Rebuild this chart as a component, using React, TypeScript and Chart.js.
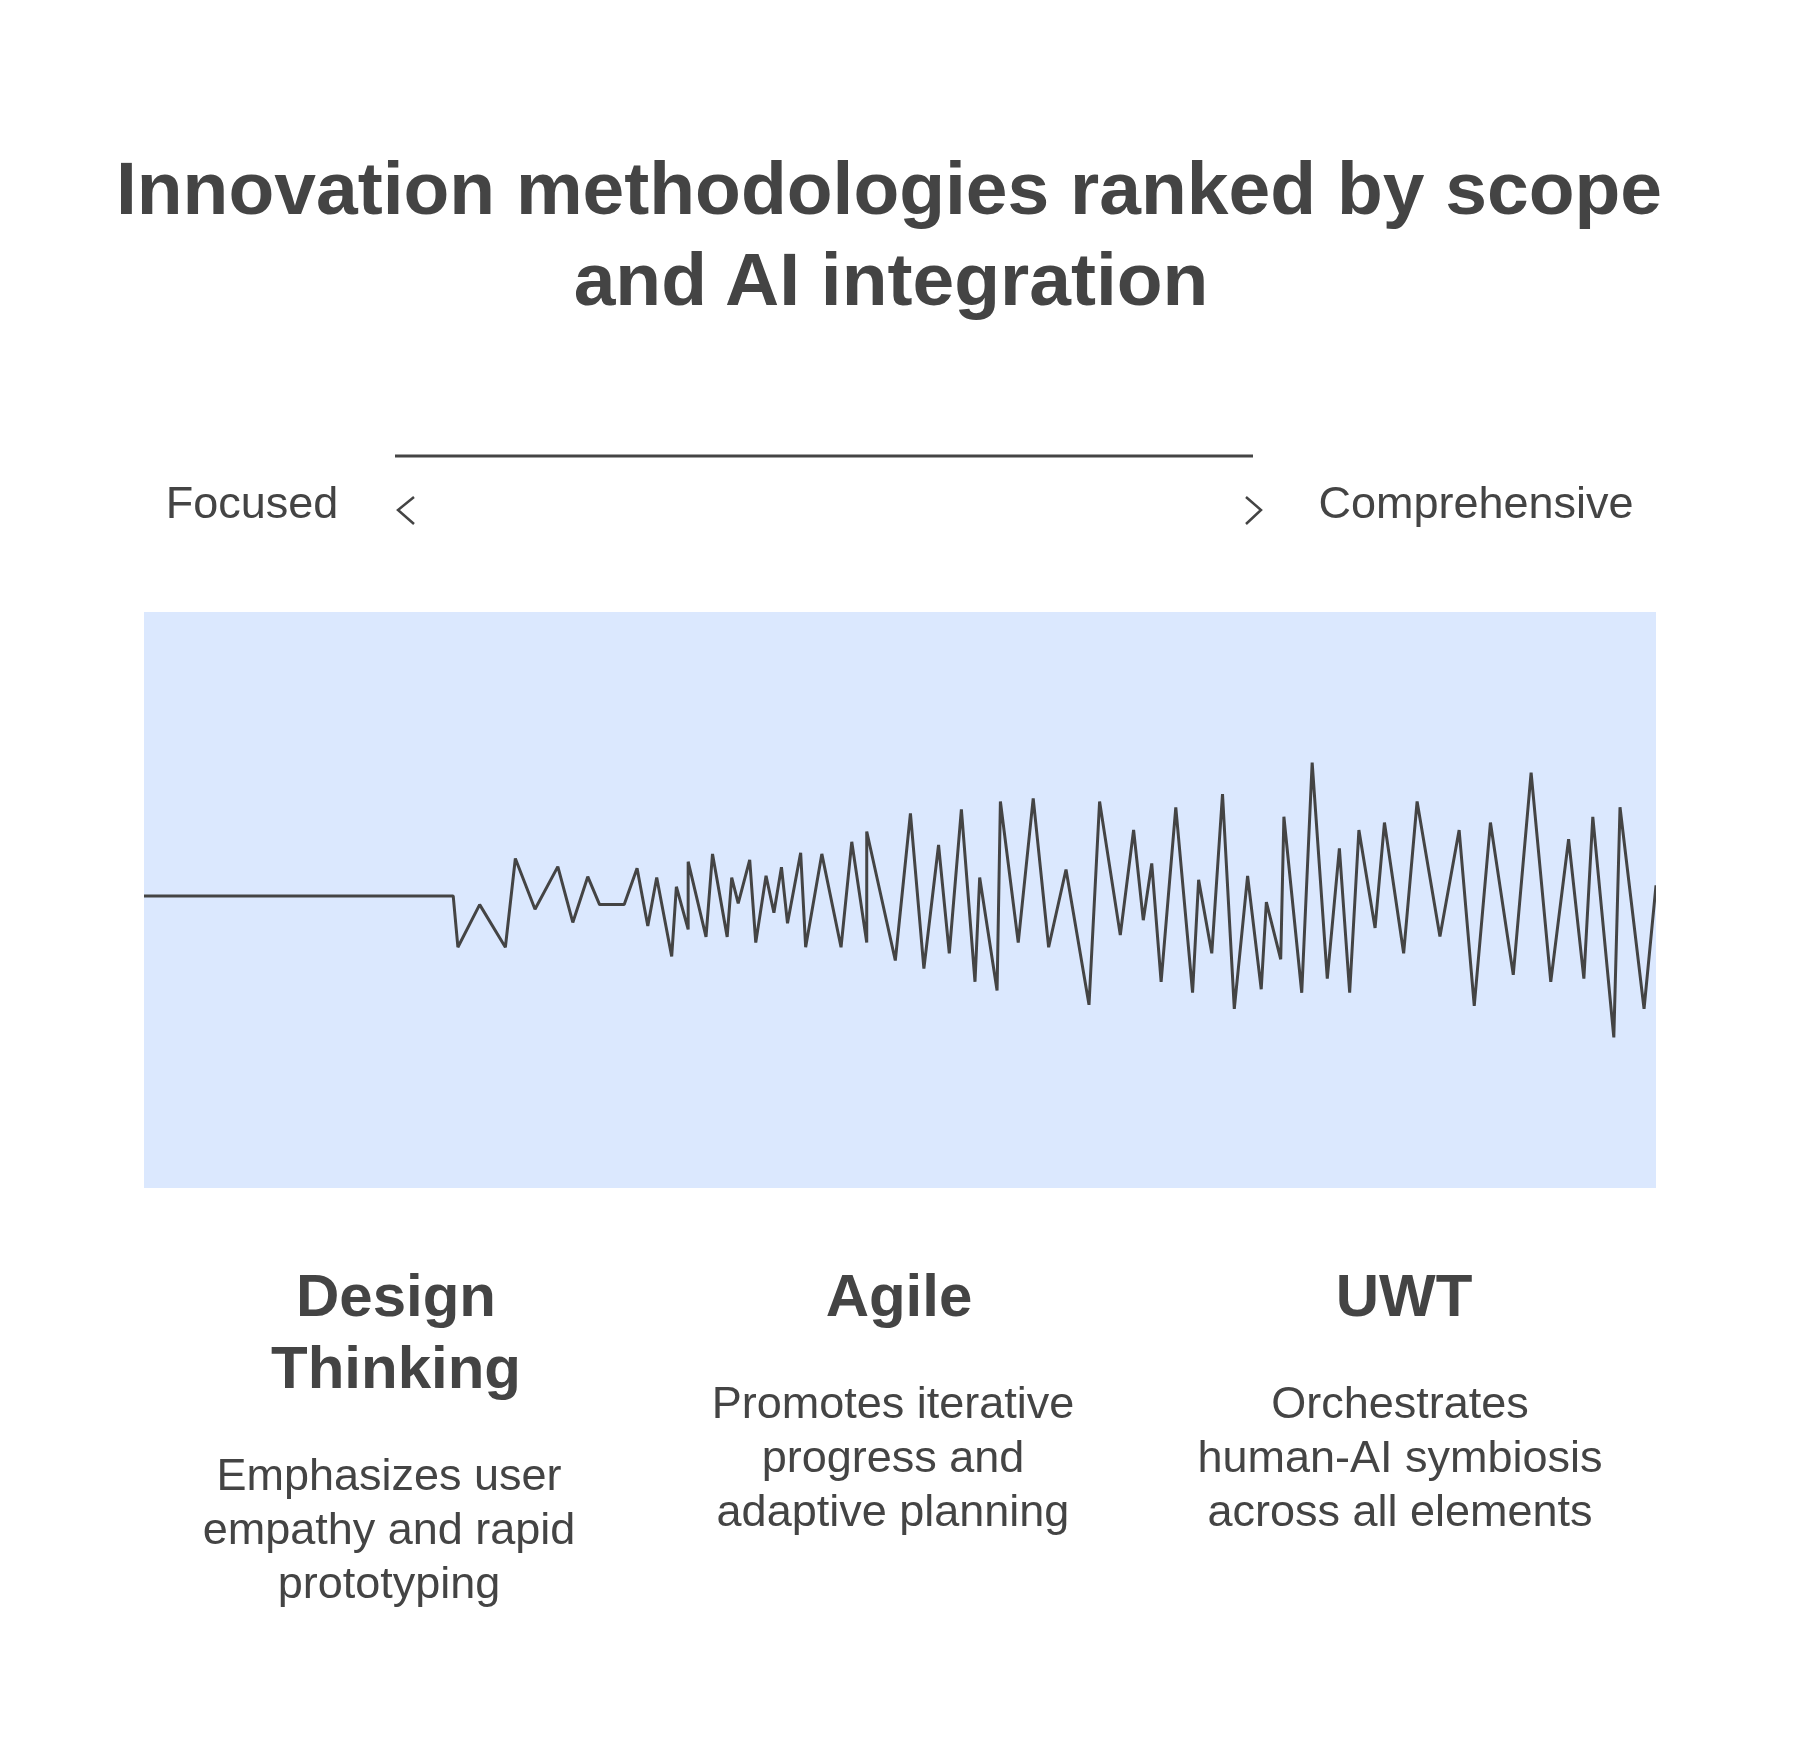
import React, { useEffect, useRef } from "react";
import { Chart, registerables } from "chart.js";

Chart.register(...registerables);

const titleLines = ["Innovation methodologies ranked by scope", "and AI integration"];
const scaleLeft = "Focused";
const scaleRight = "Comprehensive";
const methodHeadings = [["Design", "Thinking"], ["Agile"], ["UWT"]];
const methodNotes = [
  ["Emphasizes user", "empathy and rapid", "prototyping"],
  ["Promotes iterative", "progress and", "adaptive planning"],
  ["Orchestrates", "human-AI symbiosis", "across all elements"],
];

const scopePosition = [
  0, 20.45, 20.76, 22.2, 23.9, 24.56, 25.86, 27.37, 28.36, 29.35, 30.13, 31.76, 32.61, 33.32, 33.91, 34.9, 35.21, 35.99,
  35.99, 37.17, 37.6, 38.57, 38.87, 39.3, 40.06, 40.46, 41.14, 41.66, 42.16, 42.56, 43.43, 43.76, 44.83, 46.1, 46.81,
  47.8, 47.8, 49.69, 50.69, 51.58, 52.55, 53.26, 54.06, 54.96, 55.27, 56.42, 56.64, 57.82, 58.81, 59.83, 60.98, 62.5,
  63.2, 64.57, 65.45, 66.09, 66.65, 67.27, 68.24, 69.35, 69.75, 70.62, 71.33, 72.11, 72.99, 73.89, 74.23, 75.18, 75.39,
  76.57, 77.26, 78.26, 79.06, 79.74, 80.35, 81.42, 82.04, 83.31, 84.2, 85.71, 86.98, 87.98, 89.05, 90.56, 91.74, 93.04,
  94.22, 95.23, 95.82, 97.21, 97.62, 99.21, 100,
];
const aiSignal = [
  0.7, 0.7, -8.2, -0.8, -8.2, 7.2, -1.6, 5.8, -3.9, 4.05, -0.8, -0.8, 5.5, -4.5, 3.9, -9.8, 2.3, -5.1,
  6.66, -6.4, 8.0, -6.4, 3.9, -0.6, 6.95, -7.4, 4.2, -2.2, 5.7, -4.05, 8.2, -8.2, 8.0, -8.2, 10.1,
  -7.4, 11.9, -10.5, 15.05, -11.9, 9.55, -9.25, 15.75, -14.2, 3.9, -15.7, 17.1, -7.4, 17.65, -8.2, 5.3, -18.2,
  17.1, -6.1, 12.15, -3.5, 6.35, -14.2, 16.1, -16.1, 3.5, -9.25, 18.4, -18.9, 4.2, -15.5, -0.35, -10.3, 14.45,
  -16.1, 23.85, -13.65, 8.95, -16.1, 12.15, -4.85, 13.45, -9.25, 17.1, -6.35, 12.15, -18.4, 13.45, -13.0, 22.1, -14.2,
  10.55, -13.65, 14.45, -23.85, 16.1, -18.9, 2.55,
];

const INK = "#444444";
const PANEL = "#dbe8fe";
const FONT = '"Liberation Sans", Arial, sans-serif';

const panelPlugin = {
  id: "panel",
  beforeDatasetsDraw(chart: any) {
    const { ctx, chartArea } = chart;
    ctx.save();
    ctx.fillStyle = PANEL;
    ctx.fillRect(chartArea.left, chartArea.top, chartArea.right - chartArea.left, chartArea.bottom - chartArea.top);
    ctx.restore();
  },
};

function Label(props: { x: number; y: number; size: number; bold?: boolean; children: string }) {
  return (
    <text
      x={props.x}
      y={props.y}
      fontSize={props.size}
      fontFamily={FONT}
      fontWeight={props.bold ? 700 : 400}
      fill={INK}
      textAnchor="middle"
    >
      {props.children}
    </text>
  );
}

const headingX = [396, 899, 1404];
const noteX = [389, 893, 1400];
const noteTop = [1490, 1418, 1418];

export default function App() {
  const ref = useRef<HTMLCanvasElement>(null);
  useEffect(() => {
    const chart = new Chart(ref.current as HTMLCanvasElement, {
      type: "line",
      data: {
        datasets: [
          {
            data: scopePosition.map((x, i) => ({ x, y: aiSignal[i] })),
            borderColor: INK,
            borderWidth: 3,
            borderJoinStyle: "bevel",
            tension: 0,
            pointRadius: 0,
            fill: false,
          },
        ],
      },
      options: {
        animation: false,
        responsive: false,
        devicePixelRatio: 1,
        layout: { padding: { left: 144, right: 144, top: 612, bottom: 576 } },
        plugins: { legend: { display: false }, title: { display: false }, tooltip: { enabled: false } },
        scales: {
          x: { type: "linear", min: 0, max: 100, display: false },
          y: { type: "linear", min: -50, max: 50, display: false },
        },
      },
      plugins: [panelPlugin],
    } as any);
    return () => chart.destroy();
  }, []);

  return (
    <div style={{ position: "absolute", left: 0, top: 0, width: 1800, height: 1764, background: "#fff" }}>
      <canvas ref={ref} width={1800} height={1764} style={{ position: "absolute", left: 0, top: 0 }} />
      <svg width={1800} height={1764} style={{ position: "absolute", left: 0, top: 0 }}>
        <Label x={889} y={214} size={75} bold>{titleLines[0]}</Label>
        <Label x={891} y={305} size={75} bold>{titleLines[1]}</Label>
        <Label x={252} y={518} size={45}>{scaleLeft}</Label>
        <Label x={1476} y={518} size={45}>{scaleRight}</Label>
        <line x1={395} y1={456} x2={1253} y2={456} stroke={INK} strokeWidth={3} />
        <path d="M414 497 L398 510 L414 524" fill="none" stroke={INK} strokeWidth={2.5} />
        <path d="M1246 497 L1261 510 L1246 524" fill="none" stroke={INK} strokeWidth={2.5} />
        {methodHeadings.map((lines, i) =>
          lines.map((line, j) => (
            <Label key={line} x={headingX[i]} y={1316 + j * 72} size={60} bold>{line}</Label>
          ))
        )}
        {methodNotes.map((lines, i) =>
          lines.map((line, j) => (
            <Label key={line} x={noteX[i]} y={noteTop[i] + j * 54} size={45}>{line}</Label>
          ))
        )}
      </svg>
    </div>
  );
}
